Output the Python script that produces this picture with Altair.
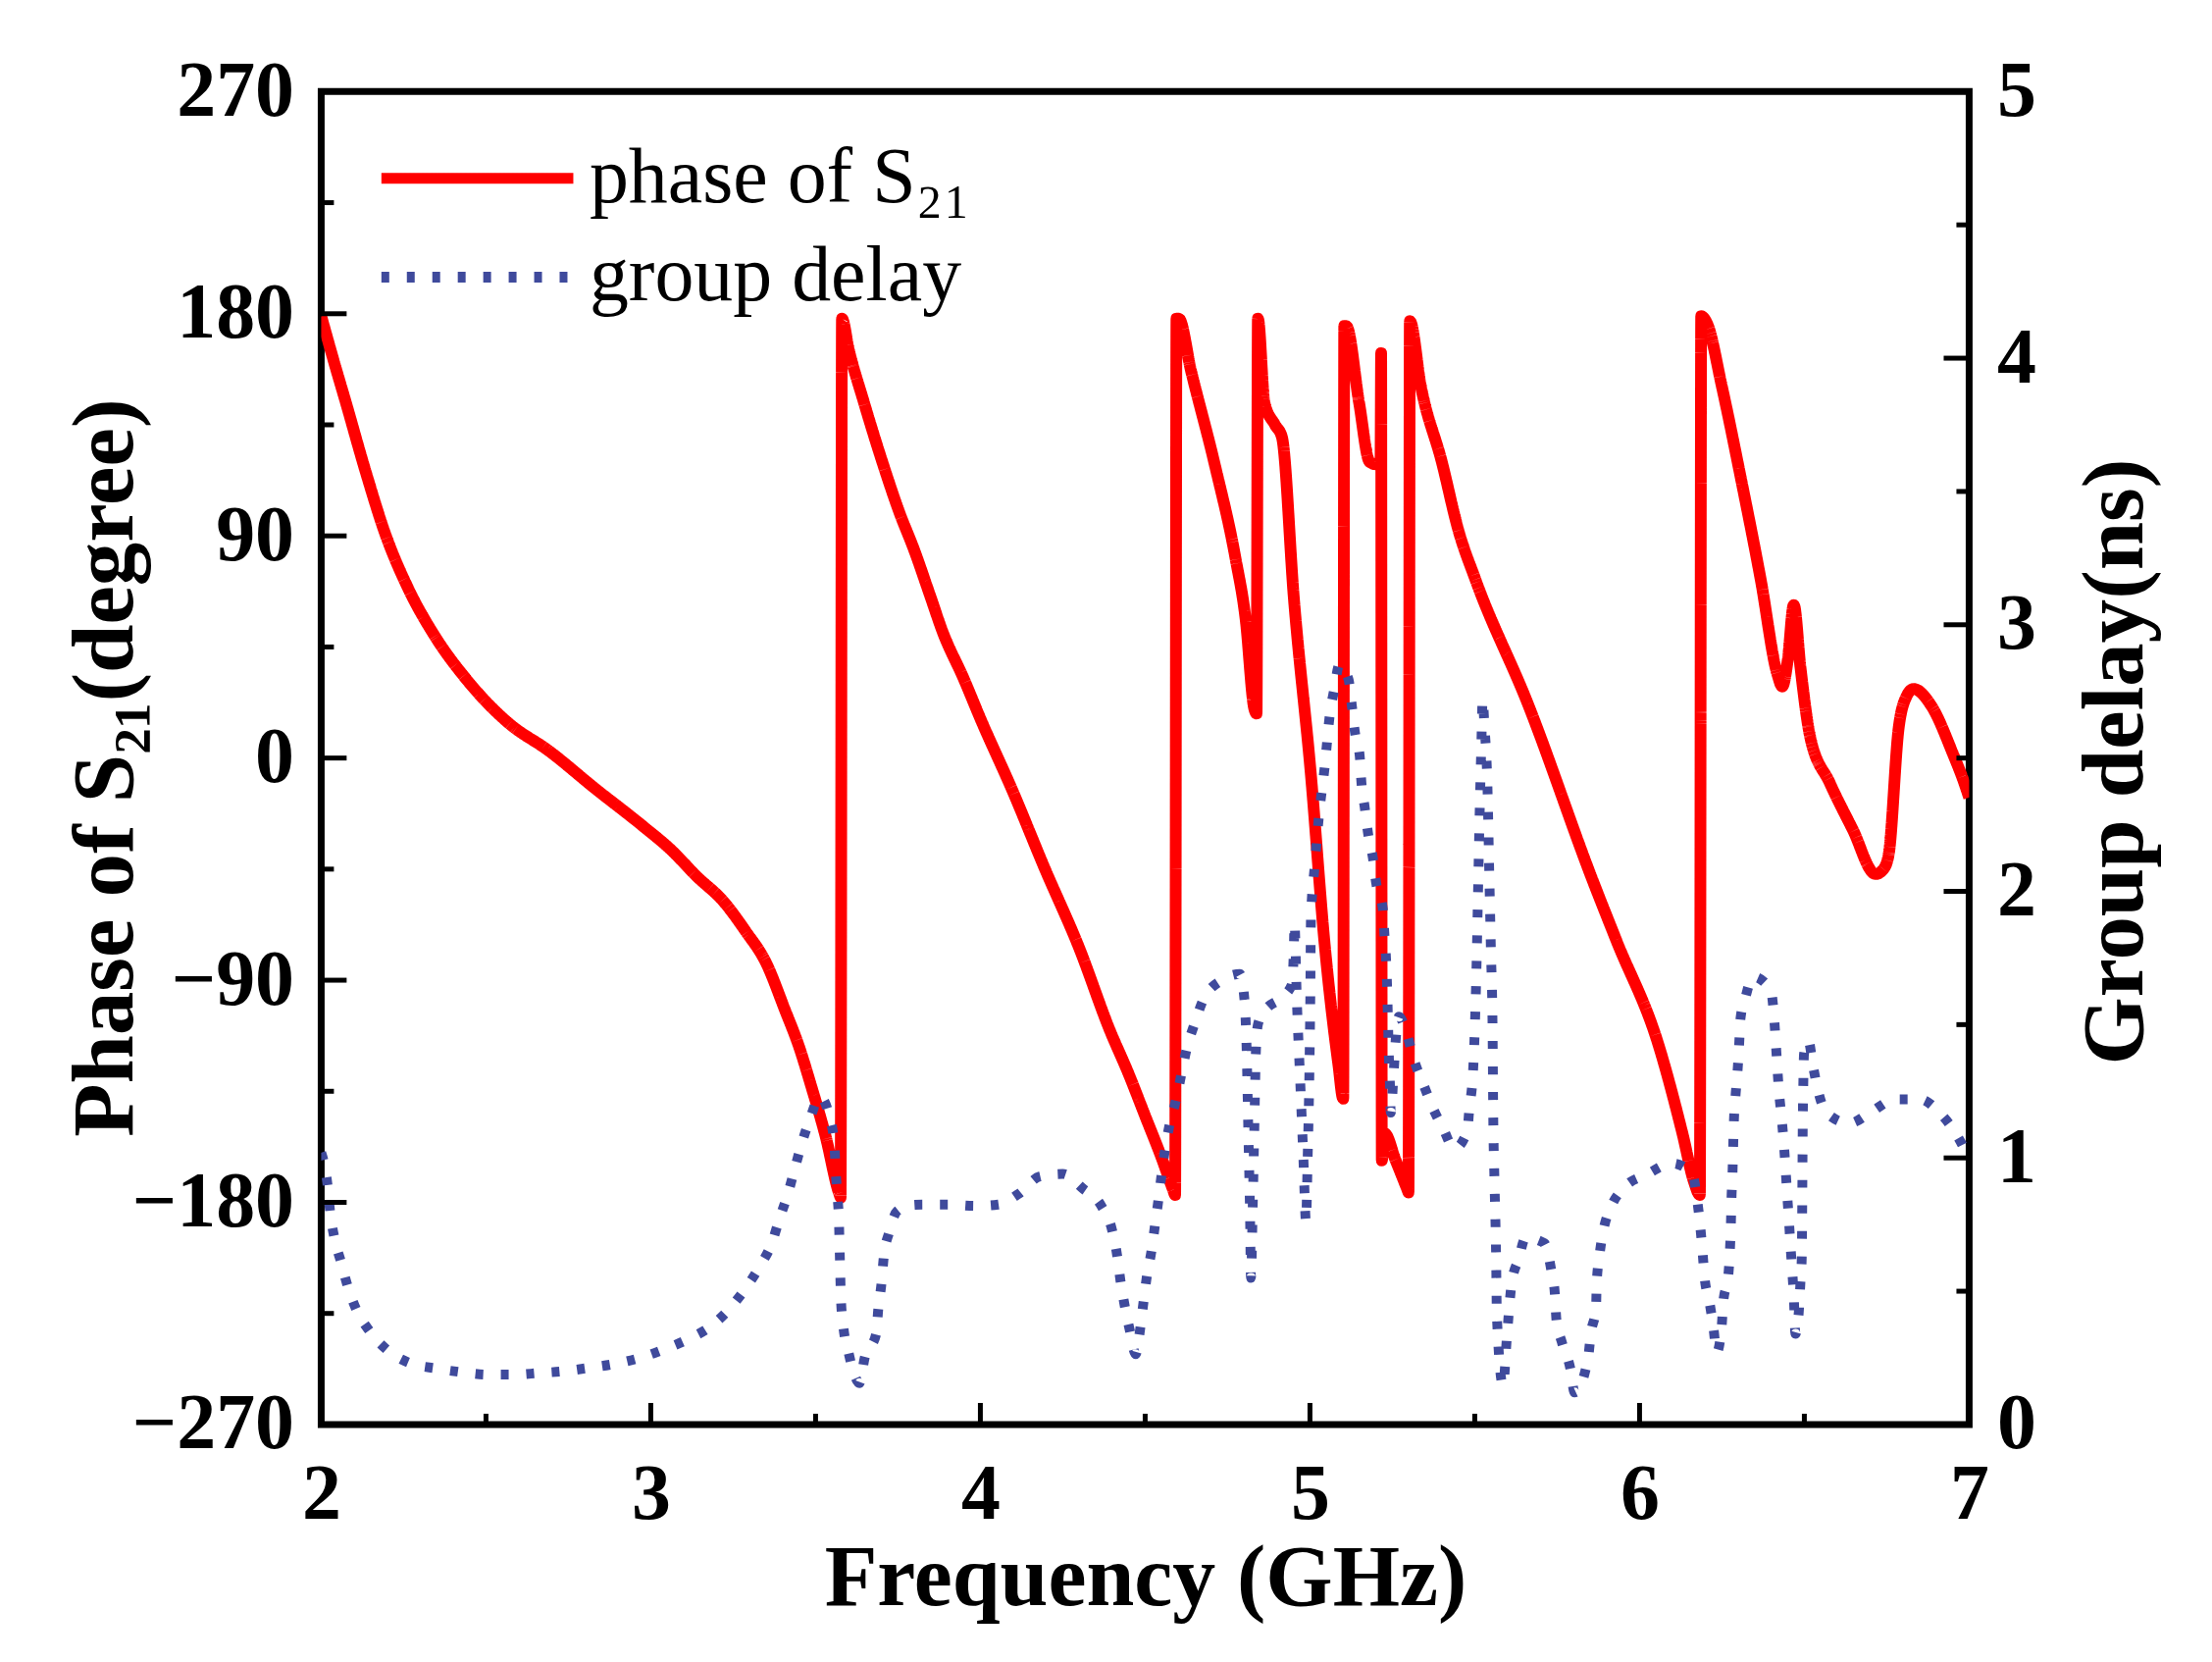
import altair as alt
import pandas as pd

# ---------------- data ----------------
phase_f = [2.000, 2.040, 2.075, 2.135, 2.194, 2.263, 2.342, 2.440, 2.570, 2.690,
           2.828, 2.980, 3.060, 3.140, 3.220,
           3.287, 3.350, 3.407, 3.450, 3.487, 3.530, 3.573, 3.576, 3.580, 3.600,
           3.647, 3.700, 3.753, 3.800, 3.847, 3.886, 3.950, 4.000, 4.100, 4.193,
           4.300, 4.392, 4.450, 4.500, 4.550, 4.585, 4.591, 4.595, 4.602, 4.639,
           4.711, 4.774, 4.805, 4.831, 4.838, 4.842, 4.862, 4.894, 4.915, 4.951,
           5.003, 5.045, 5.086, 5.101, 5.104, 5.110, 5.149, 5.181, 5.200, 5.214,
           5.216, 5.218, 5.226, 5.260, 5.296, 5.299, 5.303, 5.336, 5.400, 5.451,
           5.503, 5.661, 5.859, 5.930, 6.057, 6.130, 6.166, 6.183, 6.187, 6.205,
           6.249, 6.308, 6.368, 6.418, 6.433, 6.450, 6.468, 6.488, 6.517, 6.577,
           6.647, 6.716, 6.740, 6.756, 6.786, 6.810, 6.831, 6.886, 6.950, 6.985,
           7.000]
phase_v = [179, 160, 144, 116, 91, 69, 50, 32, 14, 3,
           -12, -28, -37, -48, -58,
           -70, -83, -102, -117, -133, -153, -177, -178, 178, 166,
           144, 121, 100, 84, 66, 51, 32, 16, -14, -44,
           -77, -110, -128, -145, -162, -175, -177, 178, 178, 157,
           119, 81, 56, 20, 18, 178, 144, 135, 130, 65,
           -7, -76, -124, -138, 175, 175, 144, 120, 119, 119,
           164, -163, -152, -163, -175, -176, 177, 151, 120, 92,
           72, 22, -50, -74, -116, -152, -172, -177, 179, 176,
           151, 113, 72, 34, 29, 40, 62, 37, 9, -10,
           -29, -47, -45, -39, 12, 25, 28, 21, 2, -10,
           -16]

delay_f = [2.000, 2.007, 2.020, 2.027, 2.040, 2.060, 2.080, 2.107, 2.147, 2.200,
           2.270, 2.350, 2.427, 2.507, 2.583, 2.660, 2.737, 2.815, 2.892, 2.967,
           3.043, 3.113, 3.184, 3.236, 3.287, 3.329, 3.367, 3.390, 3.417, 3.437,
           3.457, 3.484, 3.513, 3.543, 3.557, 3.561, 3.567, 3.571, 3.573, 3.575,
           3.577, 3.584, 3.600, 3.617, 3.633, 3.649, 3.684, 3.690, 3.700, 3.707,
           3.723, 3.747, 3.790, 3.826, 3.903, 3.982, 4.054, 4.116, 4.180, 4.250,
           4.310, 4.367, 4.400, 4.415, 4.425, 4.438, 4.454, 4.471, 4.485, 4.495,
           4.505, 4.519, 4.530, 4.540, 4.550, 4.560, 4.575, 4.594, 4.610, 4.626,
           4.649, 4.675, 4.730, 4.787, 4.800, 4.808, 4.813, 4.818, 4.821, 4.826,
           4.831, 4.836, 4.842, 4.862, 4.912, 4.945, 4.951, 4.953, 4.960, 4.970,
           4.980, 4.988, 4.993, 4.998, 5.001, 5.003, 5.014, 5.027, 5.045, 5.060,
           5.074, 5.089, 5.117, 5.127, 5.136, 5.151, 5.156, 5.166, 5.176, 5.191,
           5.201, 5.221, 5.226, 5.231, 5.234, 5.236, 5.238, 5.240, 5.243, 5.245,
           5.253, 5.260, 5.270, 5.295, 5.315, 5.343, 5.372, 5.404, 5.438, 5.477,
           5.484, 5.493, 5.497, 5.500, 5.505, 5.510, 5.515, 5.520, 5.524, 5.529,
           5.539, 5.544, 5.549, 5.554, 5.556, 5.560, 5.565, 5.567, 5.586, 5.597,
           5.612, 5.633, 5.654, 5.711, 5.732, 5.743, 5.748, 5.764, 5.790, 5.803,
           5.844, 5.852, 5.868, 5.870, 5.878, 5.889, 5.915, 5.950, 6.025, 6.098,
           6.160, 6.174, 6.184, 6.191, 6.197, 6.212, 6.224, 6.234, 6.249, 6.254,
           6.269, 6.274, 6.277, 6.279, 6.282, 6.284, 6.286, 6.291, 6.297, 6.302,
           6.306, 6.323, 6.343, 6.398, 6.408, 6.413, 6.418, 6.423, 6.431, 6.438,
           6.443, 6.448, 6.453, 6.458, 6.463, 6.468, 6.473, 6.483, 6.488, 6.492,
           6.493, 6.494, 6.495, 6.497, 6.499, 6.512, 6.527, 6.542, 6.567, 6.637,
           6.700, 6.776, 6.851, 6.910, 6.955, 6.990, 7.000]
delay_v = [1.02, 0.99, 0.89, 0.80, 0.70, 0.61, 0.52, 0.43, 0.35, 0.28,
           0.23, 0.21, 0.196, 0.187, 0.187, 0.193, 0.20, 0.213, 0.228, 0.25,
           0.283, 0.32, 0.37, 0.43, 0.51, 0.59, 0.68, 0.77, 0.87, 0.96,
           1.05, 1.15, 1.23, 1.15, 1.05, 0.95, 0.85, 0.76, 0.66, 0.56,
           0.47, 0.37, 0.27, 0.19, 0.155, 0.25, 0.34, 0.43, 0.53, 0.63,
           0.72, 0.80, 0.823, 0.825, 0.825, 0.82, 0.825, 0.865, 0.93, 0.94,
           0.886, 0.82, 0.727, 0.634, 0.54, 0.445, 0.35, 0.264, 0.36, 0.46,
           0.555, 0.65, 0.75, 0.84, 0.94, 1.03, 1.13, 1.22, 1.315, 1.41,
           1.50, 1.59, 1.665, 1.69, 1.61, 1.40, 1.10, 0.80, 0.55, 0.80,
           1.10, 1.40, 1.50, 1.55, 1.60, 1.65, 1.78, 1.88, 1.60, 1.30,
           1.00, 0.76, 1.00, 1.30, 1.60, 1.90, 2.09, 2.28, 2.47, 2.66,
           2.76, 2.85, 2.795, 2.697, 2.60, 2.507, 2.41, 2.316, 2.22, 2.125,
           2.03, 1.935, 1.837, 1.743, 1.645, 1.55, 1.45, 1.358, 1.265, 1.17,
           1.30, 1.44, 1.53, 1.46, 1.37, 1.28, 1.19, 1.11, 1.035, 1.10,
           1.19, 1.29, 1.38, 1.48, 1.70, 2.00, 2.30, 2.55, 2.72, 2.63,
           2.37, 2.07, 1.78, 1.49, 1.17, 0.906, 0.61, 0.41, 0.146, 0.32,
           0.53, 0.62, 0.70, 0.68, 0.58, 0.49, 0.39, 0.31, 0.21, 0.12,
           0.25, 0.34, 0.44, 0.53, 0.63, 0.72, 0.82, 0.885, 0.94, 0.98,
           0.94, 0.85, 0.745, 0.65, 0.555, 0.46, 0.365, 0.27, 0.365, 0.46,
           0.555, 0.65, 0.745, 0.85, 0.94, 1.04, 1.13, 1.23, 1.32, 1.42,
           1.52, 1.61, 1.68, 1.63, 1.53, 1.44, 1.34, 1.25, 1.15, 1.05,
           0.96, 0.86, 0.77, 0.67, 0.58, 0.48, 0.34, 0.42, 0.53, 0.62,
           0.72, 0.91, 1.10, 1.29, 1.39, 1.44, 1.34, 1.25, 1.17, 1.13,
           1.17, 1.22, 1.22, 1.17, 1.10, 1.02, 0.99]

x_major = [2, 3, 4, 5, 6, 7]
x_minor = [2.5, 3.5, 4.5, 5.5, 6.5]
phase_major = [-270, -180, -90, 0, 90, 180, 270]
phase_minor = [-225, -135, -45, 45, 135, 225]
delay_major = [0, 1, 2, 3, 4, 5]
delay_minor = [0.5, 1.5, 2.5, 3.5, 4.5]

S_PHASE = "phase of S\u2082\u2081"
S_DELAY = "group delay"

# ---------------- styling ----------------
W, H = 1683, 1361
FONT = "Liberation Serif"
RED = "#ff0000"
BLUE = "#3f4a9c"

phase_df = pd.DataFrame({"f": phase_f, "v": phase_v, "series": S_PHASE,
                         "i": list(range(len(phase_f)))})
delay_df = pd.DataFrame({"f": delay_f, "v": delay_v, "series": S_DELAY,
                         "i": list(range(len(delay_f)))})

xscale = alt.Scale(domain=[2, 7], nice=False, zero=False)
x_axis = alt.Axis(values=x_major, format="d", ticks=False, tickSize=0, domain=False,
                  grid=False, labelFont=FONT, labelFontSize=80, labelFontWeight="bold",
                  labelColor="black", labelPadding=33, labelFlush=False, labelOverlap=False,
                  titleFont=FONT, titleFontSize=88, titleFontWeight="bold", titleColor="black",
                  titleBaseline="alphabetic", titleY=184)
X = alt.X("f:Q", scale=xscale, axis=x_axis, title="Frequency (GHz)")

# long horizontal stroke drawn with a compact symbol box (keeps legend rows tight)
legend = alt.Legend(orient="none", legendX=119, legendY=48, title=None,
                    symbolType="M-2.8,0H2.8", symbolSize=70 * 70,
                    symbolStrokeWidth=11, labelFont=FONT, labelFontSize=80,
                    labelColor="black", labelOffset=74, labelLimit=0,
                    rowPadding=20, padding=0)
color = alt.Color("series:N",
                  scale=alt.Scale(domain=[S_PHASE, S_DELAY], range=[RED, BLUE]),
                  legend=legend)
dash = alt.StrokeDash("series:N",
                      scale=alt.Scale(domain=[S_PHASE, S_DELAY], range=[[1, 0], [8, 18]]),
                      legend=legend)

phase_line = alt.Chart(phase_df).mark_line(strokeWidth=12, clip=True,
                                           interpolate="monotone").encode(
    x=X,
    y=alt.Y("v:Q", scale=alt.Scale(domain=[-270, 270], nice=False),
            axis=alt.Axis(values=phase_major, ticks=False, tickSize=0, domain=False,
                          grid=False, labelFont=FONT, labelFontSize=80,
                          labelFontWeight="bold", labelColor="black", labelPadding=28,
                          labelOverlap=False, titleFont=FONT, titleFontSize=89,
                          titleFontWeight="bold", titleColor="black", titleX=-220,
                          titleY=690, titleAngle=270, titleAlign="center",
                          titleBaseline="middle"),
            title="Phase of S\u2082\u2081(degree)"),
    color=color,
    strokeDash=dash,
    order=alt.Order("i:Q"),
)

delay_line = alt.Chart(delay_df).mark_line(strokeWidth=10, clip=True,
                                           interpolate="monotone").encode(
    x=X,
    y=alt.Y("v:Q", scale=alt.Scale(domain=[0, 5], nice=False),
            axis=alt.Axis(orient="right", values=delay_major, format="d", ticks=False,
                          tickSize=0, domain=False, grid=False, labelFont=FONT,
                          labelFontSize=80, labelFontWeight="bold", labelColor="black",
                          labelPadding=28, labelOverlap=False, titleFont=FONT,
                          titleFontSize=89, titleFontWeight="bold", titleColor="black",
                          titleX=149, titleY=684, titleAngle=270, titleAlign="center",
                          titleBaseline="middle"),
            title="Group delay(ns)"),
    color=color,
    strokeDash=dash,
    order=alt.Order("i:Q"),
)


def xticks(vals, length):
    df = pd.DataFrame({"f": vals})
    return alt.Chart(df).mark_rule(color="black", strokeWidth=5).encode(
        x=X, y=alt.value(H), y2=alt.value(H - length))


def yticks(vals, domain, x0, x1):
    df = pd.DataFrame({"t": vals})
    return alt.Chart(df).mark_rule(color="black", strokeWidth=5).encode(
        y=alt.Y("t:Q", scale=alt.Scale(domain=domain, nice=False), axis=None),
        x=alt.value(x0), x2=alt.value(x1))


layers = [
    phase_line,
    delay_line,
    xticks(x_major, 22),
    xticks(x_minor, 11),
    yticks(phase_major, [-270, 270], 0, 26),
    yticks(phase_minor, [-270, 270], 0, 13),
    yticks(delay_major, [0, 5], W, W - 26),
    yticks(delay_minor, [0, 5], W, W - 13),
]

chart = alt.layer(*layers).resolve_scale(y="independent").properties(
    width=W, height=H,
    background="white",
    padding={"left": 320, "top": 84, "right": 240, "bottom": 240},
    autosize=alt.AutoSizeParams(type="none"),
).configure_view(stroke="black", strokeWidth=7)

chart.save("out.html", embed_options={"renderer": "svg", "actions": False})
